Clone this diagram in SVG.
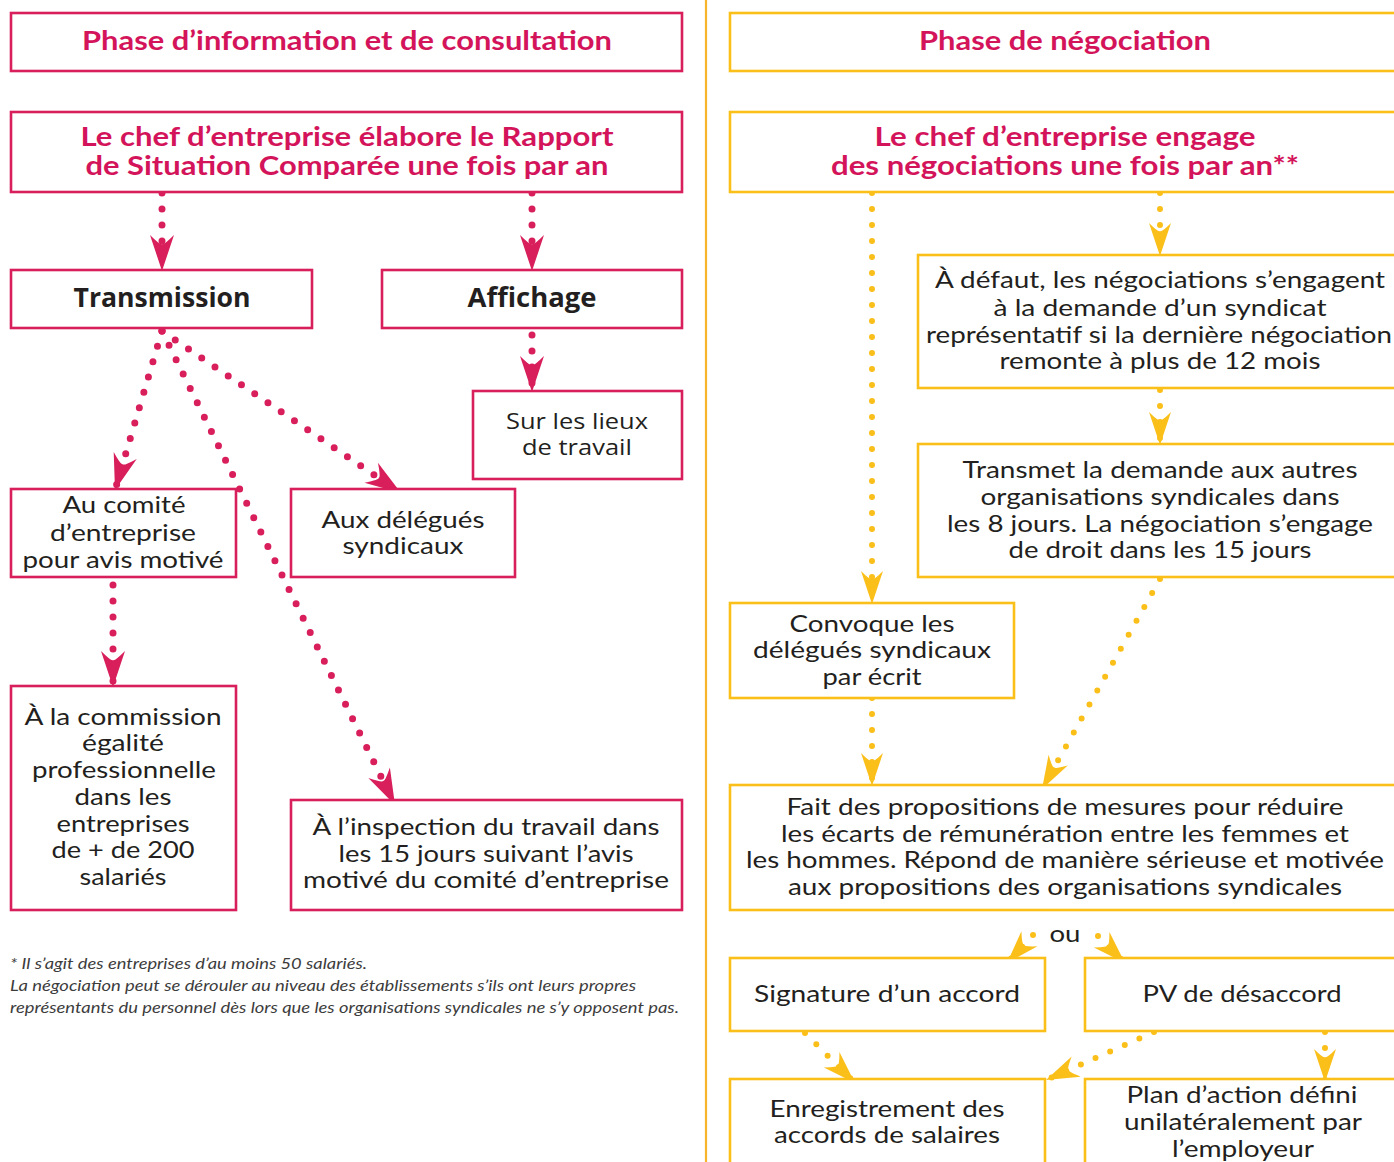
<svg xmlns="http://www.w3.org/2000/svg" width="1394" height="1162" viewBox="0 0 1394 1162">
<style>
.bg{fill:#ffffff}
.rbox{fill:#ffffff;stroke:#d81e5b;stroke-width:2.6}
.ybox{fill:#ffffff;stroke:#fbbf1a;stroke-width:2.6}
.rh{font-family:Lato,"Open Sans",sans-serif;font-weight:bold;font-size:26px;fill:#d4145a;text-anchor:middle}
.dh{font-family:"Open Sans","Noto Sans",sans-serif;font-weight:bold;font-size:26px;fill:#231f20;text-anchor:middle}
.wt{font-family:"Open Sans","Noto Sans",sans-serif;font-size:22px;fill:#231f20;text-anchor:middle}
.t{font-family:Lato,"Open Sans",sans-serif;font-size:24px;fill:#231f20;text-anchor:middle}
.fn{font-family:Lato,"Open Sans",sans-serif;font-style:italic;font-size:16px;fill:#3c3c3c}
.rl{fill:none;stroke:#d81e5b;stroke-width:7;stroke-linecap:round;stroke-dasharray:0 16}
.yl{fill:none;stroke:#fbbf1a;stroke-width:6;stroke-linecap:round;stroke-dasharray:0 16}
.rarr{marker-end:url(#ra)}
.yarr{marker-end:url(#ya)}
</style>
<defs>
<marker id="ra" markerUnits="userSpaceOnUse" refX="0" refY="0" markerWidth="40" markerHeight="28" orient="auto" overflow="visible">
<path d="M0,0 L-36,-12 Q-25,-1 -27,0 Q-25,1 -36,12 Z" fill="#d81e5b"/>
</marker>
<marker id="ya" markerUnits="userSpaceOnUse" refX="0" refY="0" markerWidth="36" markerHeight="26" orient="auto" overflow="visible">
<path d="M0,0 L-33,-11 Q-23,-1 -25,0 Q-23,1 -33,11 Z" fill="#fbbf1a"/>
</marker>
</defs>
<rect class="bg" x="0" y="0" width="1394" height="1162"/>
<line x1="706" y1="0" x2="706" y2="1162" stroke="#f6b52a" stroke-width="2.2"/>

<g id="connectors">
<path class="rl rarr" d="M162,193 L162,271"/>
<path class="rl rarr" d="M532,193 L532,271"/>
<path class="rl rarr" d="M162,331 L115,490"/>
<path class="rl rarr" d="M162,331 L401,493"/>
<path class="rl rarr" d="M162,331 L395,805"/>
<path class="rl rarr" d="M113,585 L113,687"/>
<path class="rl rarr" d="M532,335 L532,392"/>
<path class="yl yarr" d="M872,193 L872,604"/>
<path class="yl yarr" d="M1160,193 L1160,256"/>
<path class="yl yarr" d="M1160,390 L1160,445"/>
<path class="yl yarr" d="M1160,579 L1042,789"/>
<path class="yl yarr" d="M872,698 L872,786"/>
<path class="yl yarr" d="M1033,935 L1007,963"/>
<path class="yl yarr" d="M1098,936 L1125,963"/>
<path class="yl yarr" d="M805,1033 L855,1083"/>
<path class="yl yarr" d="M1154,1032 L1046,1080"/>
<path class="yl yarr" d="M1325,1032 L1325,1082"/>
</g>

<g id="phase-info">
<rect class="rbox" x="11" y="13" width="671" height="58"/>
<text class="rh" x="347" y="50" textLength="530" lengthAdjust="spacingAndGlyphs">Phase d’information et de consultation</text>
</g>
<g id="rapport">
<rect class="rbox" x="11" y="112" width="671" height="80"/>
<text class="rh" x="347" y="146" textLength="533" lengthAdjust="spacingAndGlyphs">Le chef d’entreprise élabore le Rapport</text>
<text class="rh" x="347" y="175" textLength="523" lengthAdjust="spacingAndGlyphs">de Situation Comparée une fois par an</text>
</g>
<g id="transmission">
<rect class="rbox" x="11" y="270" width="301" height="58"/>
<text class="dh" x="162" y="307" textLength="177" lengthAdjust="spacingAndGlyphs">Transmission</text>
</g>
<g id="affichage">
<rect class="rbox" x="382" y="270" width="300" height="58"/>
<text class="dh" x="532" y="307" textLength="129" lengthAdjust="spacingAndGlyphs">Affichage</text>
</g>
<g id="lieux">
<rect class="rbox" x="473" y="391" width="209" height="88"/>
<text class="wt" x="577" y="429" textLength="142" lengthAdjust="spacingAndGlyphs">Sur les lieux</text>
<text class="wt" x="577" y="455" textLength="110" lengthAdjust="spacingAndGlyphs">de travail</text>
</g>
<g id="comite">
<rect class="rbox" x="11" y="489" width="225" height="88"/>
<text class="t" x="124" y="513" textLength="123" lengthAdjust="spacingAndGlyphs">Au comité</text>
<text class="t" x="123" y="541" textLength="146" lengthAdjust="spacingAndGlyphs">d’entreprise</text>
<text class="t" x="123" y="568" textLength="201" lengthAdjust="spacingAndGlyphs">pour avis motivé</text>
</g>
<g id="delegues">
<rect class="rbox" x="291" y="489" width="224" height="88"/>
<text class="t" x="403" y="528" textLength="163" lengthAdjust="spacingAndGlyphs">Aux délégués</text>
<text class="t" x="403" y="554" textLength="121" lengthAdjust="spacingAndGlyphs">syndicaux</text>
</g>
<g id="commission">
<rect class="rbox" x="11" y="686" width="225" height="224"/>
<text class="t" x="123" y="725" textLength="197" lengthAdjust="spacingAndGlyphs">À la commission</text>
<text class="t" x="123" y="751" textLength="82" lengthAdjust="spacingAndGlyphs">égalité</text>
<text class="t" x="124" y="778" textLength="184" lengthAdjust="spacingAndGlyphs">professionnelle</text>
<text class="t" x="123" y="805" textLength="97" lengthAdjust="spacingAndGlyphs">dans les</text>
<text class="t" x="123" y="832" textLength="133" lengthAdjust="spacingAndGlyphs">entreprises</text>
<text class="t" x="123" y="858" textLength="143" lengthAdjust="spacingAndGlyphs">de + de 200</text>
<text class="t" x="123" y="885" textLength="87" lengthAdjust="spacingAndGlyphs">salariés</text>
</g>
<g id="inspection">
<rect class="rbox" x="291" y="800" width="391" height="110"/>
<text class="t" x="486" y="835" textLength="347" lengthAdjust="spacingAndGlyphs">À l’inspection du travail dans</text>
<text class="t" x="486" y="862" textLength="295" lengthAdjust="spacingAndGlyphs">les 15 jours suivant l’avis</text>
<text class="t" x="486" y="888" textLength="366" lengthAdjust="spacingAndGlyphs">motivé du comité d’entreprise</text>
</g>
<g id="footnote">
<text class="fn" x="10" y="969" textLength="357" lengthAdjust="spacingAndGlyphs">* Il s’agit des entreprises d’au moins 50 salariés.</text>
<text class="fn" x="10" y="991" textLength="626" lengthAdjust="spacingAndGlyphs">La négociation peut se dérouler au niveau des établissements s’ils ont leurs propres</text>
<text class="fn" x="10" y="1013" textLength="669" lengthAdjust="spacingAndGlyphs">représentants du personnel dès lors que les organisations syndicales ne s’y opposent pas.</text>
</g>

<g id="phase-nego">
<rect class="ybox" x="730" y="13" width="680" height="58"/>
<text class="rh" x="1065" y="50" textLength="292" lengthAdjust="spacingAndGlyphs">Phase de négociation</text>
</g>
<g id="engage">
<rect class="ybox" x="730" y="112" width="680" height="80"/>
<text class="rh" x="1065" y="146" textLength="381" lengthAdjust="spacingAndGlyphs">Le chef d’entreprise engage</text>
<text class="rh" x="1065" y="175" textLength="468" lengthAdjust="spacingAndGlyphs">des négociations une fois par an**</text>
</g>
<g id="defaut">
<rect class="ybox" x="918" y="255" width="492" height="133"/>
<text class="t" x="1160" y="288" textLength="450" lengthAdjust="spacingAndGlyphs">À défaut, les négociations s’engagent</text>
<text class="t" x="1160" y="316" textLength="333" lengthAdjust="spacingAndGlyphs">à la demande d’un syndicat</text>
<text class="t" x="1159" y="343" textLength="466" lengthAdjust="spacingAndGlyphs">représentatif si la dernière négociation</text>
<text class="t" x="1160" y="369" textLength="321" lengthAdjust="spacingAndGlyphs">remonte à plus de 12 mois</text>
</g>
<g id="transmet">
<rect class="ybox" x="918" y="444" width="492" height="133"/>
<text class="t" x="1160" y="478" textLength="395" lengthAdjust="spacingAndGlyphs">Transmet la demande aux autres</text>
<text class="t" x="1160" y="505" textLength="359" lengthAdjust="spacingAndGlyphs">organisations syndicales dans</text>
<text class="t" x="1160" y="532" textLength="426" lengthAdjust="spacingAndGlyphs">les 8 jours. La négociation s’engage</text>
<text class="t" x="1160" y="558" textLength="303" lengthAdjust="spacingAndGlyphs">de droit dans les 15 jours</text>
</g>
<g id="convoque">
<rect class="ybox" x="730" y="603" width="284" height="95"/>
<text class="t" x="872" y="632" textLength="165" lengthAdjust="spacingAndGlyphs">Convoque les</text>
<text class="t" x="872" y="658" textLength="238" lengthAdjust="spacingAndGlyphs">délégués syndicaux</text>
<text class="t" x="872" y="685" textLength="99" lengthAdjust="spacingAndGlyphs">par écrit</text>
</g>
<g id="propositions">
<rect class="ybox" x="730" y="785" width="680" height="125"/>
<text class="t" x="1065" y="815" textLength="557" lengthAdjust="spacingAndGlyphs">Fait des propositions de mesures pour réduire</text>
<text class="t" x="1065" y="842" textLength="568" lengthAdjust="spacingAndGlyphs">les écarts de rémunération entre les femmes et</text>
<text class="t" x="1065" y="868" textLength="638" lengthAdjust="spacingAndGlyphs">les hommes. Répond de manière sérieuse et motivée</text>
<text class="t" x="1065" y="895" textLength="554" lengthAdjust="spacingAndGlyphs">aux propositions des organisations syndicales</text>
</g>
<g id="ou">
<text class="t" x="1065" y="942" textLength="31" lengthAdjust="spacingAndGlyphs">ou</text>
</g>
<g id="signature">
<rect class="ybox" x="730" y="958" width="315" height="73"/>
<text class="t" x="887" y="1002" textLength="266" lengthAdjust="spacingAndGlyphs">Signature d’un accord</text>
</g>
<g id="pv">
<rect class="ybox" x="1085" y="958" width="325" height="73"/>
<text class="t" x="1242" y="1002" textLength="199" lengthAdjust="spacingAndGlyphs">PV de désaccord</text>
</g>
<g id="enregistrement">
<rect class="ybox" x="730" y="1079" width="315" height="100"/>
<text class="t" x="887" y="1117" textLength="235" lengthAdjust="spacingAndGlyphs">Enregistrement des</text>
<text class="t" x="887" y="1143" textLength="226" lengthAdjust="spacingAndGlyphs">accords de salaires</text>
</g>
<g id="plan">
<rect class="ybox" x="1085" y="1079" width="325" height="100"/>
<text class="t" x="1242" y="1103" textLength="231" lengthAdjust="spacingAndGlyphs">Plan d’action défini</text>
<text class="t" x="1243" y="1130" textLength="238" lengthAdjust="spacingAndGlyphs">unilatéralement par</text>
<text class="t" x="1243" y="1157" textLength="142" lengthAdjust="spacingAndGlyphs">l’employeur</text>
</g>
</svg>
